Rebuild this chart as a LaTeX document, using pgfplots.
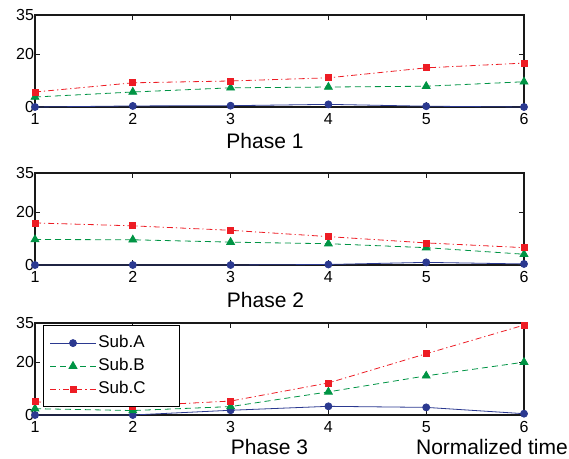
\documentclass[border=0pt]{standalone}
\usepackage{pgfplots}
\pgfplotsset{compat=1.18}
\usepackage{fontspec}
\setmainfont{Liberation Sans}
\definecolor{cA}{RGB}{43,57,144}
\definecolor{cB}{RGB}{0,148,68}
\definecolor{cC}{RGB}{237,28,36}

\pgfplotsset{
 phase/.style={
  scale only axis, width=489pt, height=92pt,
  xmin=1, xmax=6, ymin=0, ymax=35,
  xtick={1,2,3,4,5,6}, ytick={0,20,35},
  clip=false,
  axis line style={black!90, line width=1.2pt},
  major tick length=5pt,
  tick style={black!90, line width=0.9pt},
  tick align=inside,
  /pgf/number format/assume math mode=true,
  ticklabel style={font=\fontsize{16}{16}\selectfont},
  xticklabel style={yshift=-3pt},
  yticklabel style={xshift=2.5pt},
  anchor=south west,
 },
 sA/.style={cA, line width=0.8pt, solid, mark=*, mark size=3.5pt, mark options={solid, fill=cA}},
 sB/.style={cB, line width=0.8pt, dash pattern=on 6pt off 4pt, mark=triangle*, mark size=4.5pt, mark options={solid, fill=cB}},
 sC/.style={cC, line width=0.8pt, dash pattern=on 6pt off 3pt on 1.2pt off 3pt, mark=square*, mark size=3pt, mark options={solid, fill=cC}},
}

\begin{document}
\begin{tikzpicture}
\path[use as bounding box] (0pt,0pt) rectangle (569pt,458pt);

% Phase 1
\begin{axis}[phase, at={(35pt,351pt)}]
\addplot[sA] coordinates {(1,0) (2,0.4) (3,0.5) (4,1.0) (5,0.3) (6,0)};
\addplot[sB] coordinates {(1,3.8) (2,5.7) (3,7.3) (4,7.6) (5,7.9) (6,9.6)};
\addplot[sC] coordinates {(1,5.7) (2,9.2) (3,9.9) (4,11.1) (5,14.9) (6,16.7)};
\end{axis}

% Phase 2
\begin{axis}[phase, at={(35pt,193pt)}]
\addplot[sA] coordinates {(1,0) (2,0) (3,0) (4,0.2) (5,1.0) (6,0.4)};
\addplot[sB] coordinates {(1,9.7) (2,9.6) (3,8.7) (4,8.1) (5,6.6) (6,4.1)};
\addplot[sC] coordinates {(1,16.0) (2,14.9) (3,13.2) (4,10.8) (5,8.4) (6,6.6)};
\end{axis}

% Phase 3
\begin{axis}[phase, at={(35pt,43pt)},
  legend cell align=left,
  legend style={at={(axis description cs:0,1)}, anchor=north west, xshift=8pt, yshift=-2pt,
    draw=black, line width=1.2pt, font=\fontsize{17}{17}\selectfont,
    inner xsep=6pt, inner ysep=8pt, row sep=4pt,
    nodes={inner sep=2pt, text height=12pt, text depth=3pt}},
  legend image code/.code={\draw[#1, mark repeat=2, mark phase=2] plot coordinates {(0pt,0pt) (23pt,0pt) (46pt,0pt)};}
]
\addplot[sA] coordinates {(1,0) (2,0) (3,1.8) (4,3.3) (5,2.9) (6,0.5)};
\addlegendentry{Sub.A\rule{26pt}{0pt}}
\addplot[sB] coordinates {(1,2.4) (2,1.7) (3,3.2) (4,8.8) (5,14.9) (6,20.1)};
\addlegendentry{Sub.B\rule{26pt}{0pt}}
\addplot[sC] coordinates {(1,5.0) (2,3.4) (3,5.3) (4,12.2) (5,23.3) (6,34.2)};
\addlegendentry{Sub.C\rule{26pt}{0pt}}
\end{axis}

\node[anchor=base, inner sep=0pt, font=\fontsize{21}{21}\selectfont] at (265pt,309pt) {Phase 1};
\node[anchor=base, inner sep=0pt, font=\fontsize{21}{21}\selectfont] at (265.5pt,151pt) {Phase 2};
\node[anchor=base, inner sep=0pt, font=\fontsize{21}{21}\selectfont] at (269.5pt,4pt) {Phase 3};
\node[anchor=base east, inner sep=0pt, font=\fontsize{21}{21}\selectfont] at (568pt,4pt) {Normalized time};
\end{tikzpicture}
\end{document}
